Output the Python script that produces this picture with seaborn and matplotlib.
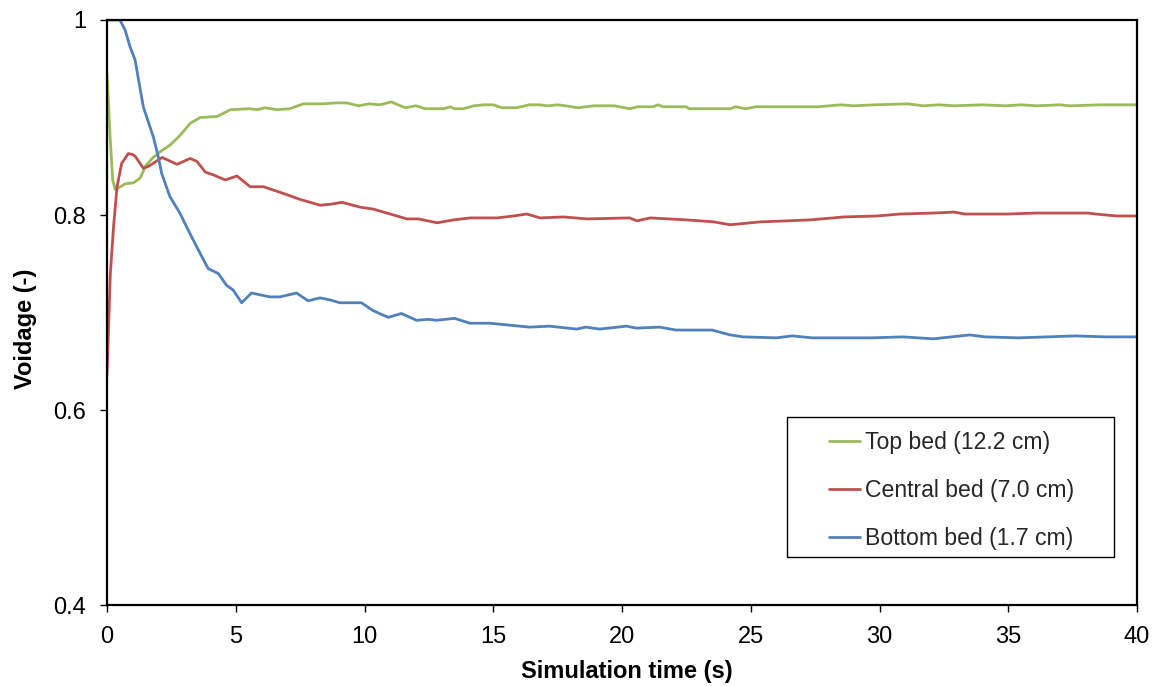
import matplotlib
matplotlib.use("Agg")
import matplotlib.pyplot as plt
from matplotlib.patches import Rectangle
import numpy as np
import pandas as pd
import seaborn as sns

# Voidage histories of the three bed heights
top_t = [0, 0.13, 0.22, 0.32, 0.52, 0.71, 1.03, 1.29, 1.49, 1.75,
         2.07, 2.46, 2.85, 3.23, 3.62, 4.27, 4.79, 5.56, 5.82, 6.14,
         6.6, 7.1, 7.62, 8.4, 8.92, 9.3, 9.77, 10.16, 10.6, 11.04,
         11.58, 12.0, 12.36, 13.07, 13.33, 13.5, 13.84, 14.24, 14.63, 15.0,
         15.33, 15.9, 16.4, 16.8, 17.1, 17.5, 17.8, 18.3, 18.9, 19.7,
         20.3, 20.6, 21.2, 21.4, 21.6, 22.5, 22.6, 24.2, 24.4, 24.8,
         25.2, 27.6, 28.5, 29.0, 29.8, 31.1, 31.7, 32.3, 32.9, 34.0,
         34.9, 35.5, 36.1, 37.0, 37.4, 38.6, 40]
top_v = [.945, .876, .836, .826, .829, .832, .833, .838, .850, .858,
         .865, .872, .882, .894, .900, .901, .908, .909, .908, .910,
         .908, .909, .914, .914, .915, .915, .912, .914, .913, .916,
         .910, .912, .909, .909, .911, .909, .909, .912, .913, .913,
         .910, .910, .913, .913, .912, .913, .912, .910, .912, .912,
         .909, .911, .911, .913, .911, .911, .909, .909, .911, .909,
         .911, .911, .913, .912, .913, .914, .912, .913, .912, .913,
         .912, .913, .912, .913, .912, .913, .913]

mid_t = [0, 0.13, 0.26, 0.39, 0.57, 0.83, 1.0, 1.1, 1.41, 1.62,
         2.14, 2.72, 3.23, 3.49, 3.82, 4.14, 4.59, 5.05, 5.56, 6.08,
         6.86, 7.5, 8.28, 8.67, 9.13, 9.84, 10.35, 10.87, 11.65, 12.1,
         12.82, 13.46, 14.1, 15.14, 15.79, 16.3, 16.82, 17.73, 18.64, 20.3,
         20.58, 21.1, 22.5, 23.56, 24.2, 25.4, 26.4, 27.3, 28.2, 28.6,
         29.9, 30.8, 32.1, 32.9, 33.3, 34.2, 35.0, 36.1, 38.1, 38.4,
         39.2, 40]
mid_v = [.636, .740, .790, .829, .853, .863, .862, .860, .848, .850,
         .859, .852, .858, .855, .844, .841, .836, .840, .829, .829,
         .822, .816, .810, .811, .813, .808, .806, .802, .796, .796,
         .792, .795, .797, .797, .799, .801, .797, .798, .796, .797,
         .794, .797, .795, .793, .790, .793, .794, .795, .797, .798,
         .799, .801, .802, .803, .801, .801, .801, .802, .802, .801,
         .799, .799]

bot_t = [0, 0.5, 0.7, 0.89, 1.09, 1.41, 1.8, 1.99, 2.12, 2.44,
         2.83, 3.22, 3.61, 3.93, 4.32, 4.64, 4.9, 5.23, 5.61, 6.33,
         6.71, 7.36, 7.81, 8.27, 8.65, 9.04, 9.88, 10.33, 10.92, 11.43,
         12.02, 12.47, 12.8, 13.5, 14.09, 14.86, 15.64, 16.41, 17.19, 18.23,
         18.6, 19.13, 20.17, 20.56, 21.46, 22.1, 23.5, 24.2, 24.7, 26.0,
         26.6, 27.4, 29.7, 30.9, 32.1, 33.5, 34.1, 35.4, 37.6, 38.8,
         40]
bot_v = [1.0, 1.0, .99, .973, .959, .911, .880, .860, .843, .819,
         .802, .781, .761, .745, .740, .728, .723, .710, .720, .716,
         .716, .720, .712, .715, .713, .710, .710, .702, .695, .699,
         .692, .693, .692, .694, .689, .689, .687, .685, .686, .683,
         .685, .683, .686, .684, .685, .682, .682, .677, .675, .674,
         .676, .674, .674, .675, .673, .677, .675, .674, .676, .675,
         .675]

series_names = ["Top bed (12.2 cm)", "Central bed (7.0 cm)", "Bottom bed (1.7 cm)"]
series_colors = ["#9BBB59", "#C0504D", "#4F81BD"]
x_ticks = [0, 5, 10, 15, 20, 25, 30, 35, 40]
y_ticks = [0.4, 0.6, 0.8, 1.0]
y_tick_labels = ["0.4", "0.6", "0.8", "1"]

frames = []
for name, t, v in zip(series_names, [top_t, mid_t, bot_t], [top_v, mid_v, bot_v]):
    frames.append(pd.DataFrame({"time": t, "voidage": v, "bed": name}))
df = pd.concat(frames, ignore_index=True)

sns.set_theme(style="white")
plt.rcParams["font.family"] = ["Liberation Sans", "DejaVu Sans"]

fig = plt.figure(figsize=(11.58, 6.86), dpi=100)
ax = fig.add_axes([107 / 1158, 1 - 605 / 686, 1030 / 1158, 585 / 686])

sns.lineplot(data=df, x="time", y="voidage", hue="bed", hue_order=series_names,
             palette=series_colors, estimator=None, sort=False, linewidth=2.0,
             ax=ax, legend=True)

ax.set_xlim(0, 40)
ax.set_ylim(0.4, 1.0)
ax.set_xticks(x_ticks)
ax.set_xticklabels([str(v) for v in x_ticks])
ax.set_yticks(y_ticks)
ax.set_yticklabels(y_tick_labels)

for side in ["left", "right", "top", "bottom"]:
    ax.spines[side].set_visible(True)
    ax.spines[side].set_color("black")
    ax.spines[side].set_linewidth(1.6)

ax.tick_params(axis="both", which="major", direction="out", length=5, width=1,
               color="black", labelsize=17, labelcolor="black", left=True, bottom=True)
ax.tick_params(axis="y", pad=10)
ax.tick_params(axis="x", pad=10)

ax.set_xlabel("Simulation time (s)", fontsize=17, fontweight="bold", color="black")
ax.set_ylabel("Voidage (-)", fontsize=17, fontweight="bold", color="black")
ax.xaxis.set_label_coords(0.505, -0.094)
ax.yaxis.set_label_coords(-0.068, 0.472)

handles, labels = ax.get_legend_handles_labels()
ax.legend(handles, labels, loc="upper left", bbox_to_anchor=(0.701, 0.2966),
          frameon=False, fontsize=16.6, borderpad=0, borderaxespad=0,
          handlelength=1.35, handletextpad=0.22, labelspacing=1.08)
ax.add_patch(Rectangle((0.660, 0.082), 0.318, 0.239, transform=ax.transAxes,
                       fill=False, edgecolor="black", linewidth=1.0, zorder=5))

fig.savefig("out.png", dpi=100)
